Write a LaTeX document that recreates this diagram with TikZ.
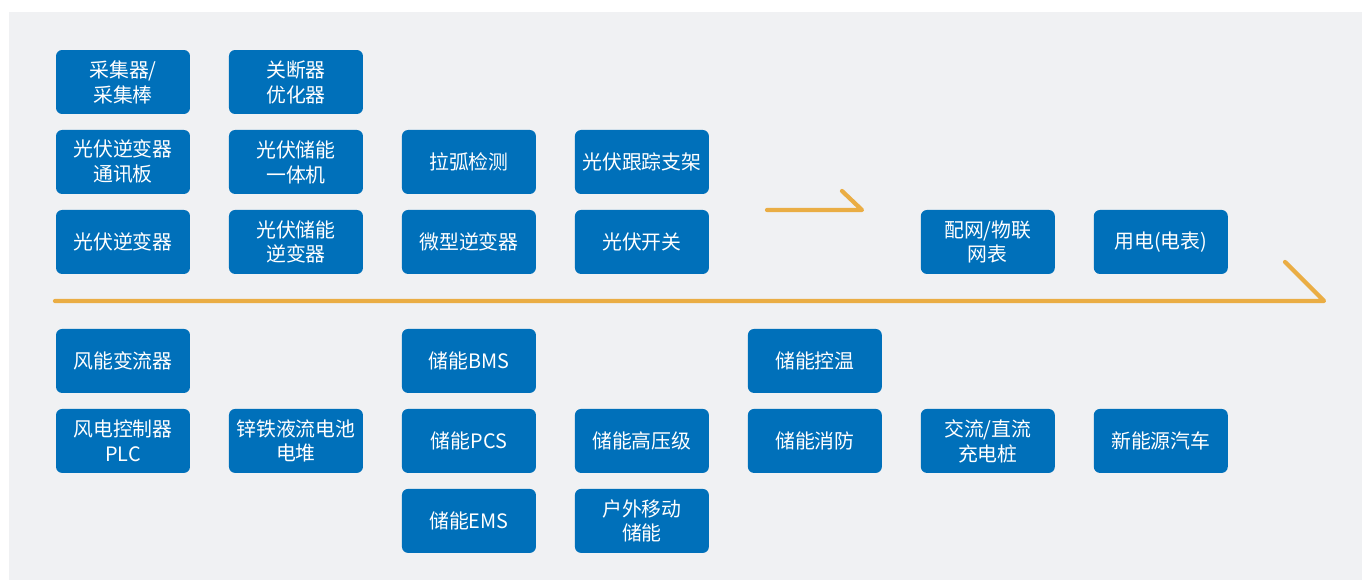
\documentclass[tikz,border=0pt]{standalone}
\usepackage{fontspec}
\setmainfont{Noto Sans CJK SC}
\usepackage{xcolor}
\usepackage{tikz}
\usetikzlibrary{positioning}

\definecolor{boxblue}{HTML}{0070BA}
\definecolor{flowline}{HTML}{EAAD44}
\definecolor{panelgray}{HTML}{F0F1F3}

\begin{document}
\begin{tikzpicture}[
    x=0.02cm, y=-0.02cm,
    chainbox/.style={rectangle, rounded corners=3.5pt, fill=boxblue, text=white,
        minimum width=2.68cm, minimum height=1.28cm, inner sep=1pt, outer sep=0pt,
        align=center, font=\fontsize{11.3}{14.2}\selectfont},
    flowarrow/.style={draw=flowline, line width=2.4pt, line cap=round, line join=round},
]
% canvas and grey panel
\useasboundingbox (0,0) rectangle (1362,580);
\fill[panelgray] (9,12) rectangle (1362,580);

% upstream: photovoltaic
\node[chainbox](cjq) at (123,82){采集器/\\采集棒};
\node[chainbox](gdq)[right = 0.78cm of cjq]{关断器\\优化器};
\node[chainbox](txb)[below = 0.32cm of cjq]{光伏逆变器\\通讯板};
\node[chainbox](ytj)[right = 0.78cm of txb]{光伏储能\\一体机};
\node[chainbox](lhjc)[right = 0.78cm of ytj]{拉弧检测};
\node[chainbox](gzzj)[right = 0.78cm of lhjc]{光伏跟踪支架};
\node[chainbox](gfnb)[below = 0.32cm of txb]{光伏逆变器};
\node[chainbox](cnnb)[right = 0.78cm of gfnb]{光伏储能\\逆变器};
\node[chainbox](wxnb)[right = 0.78cm of cnnb]{微型逆变器};
\node[chainbox](gfkg)[right = 0.78cm of wxnb]{光伏开关};
\node[chainbox](pwb)[right = 4.24cm of gfkg]{配网/物联\\网表};
\node[chainbox](ydb)[right = 0.78cm of pwb]{用电(电表)};

% downstream: wind, storage, charging
\node[chainbox](fnbl)[below = 1.1cm of gfnb]{风能变流器};
\node[chainbox](bms)[right = 4.24cm of fnbl]{储能BMS};
\node[chainbox](ckw)[right = 4.24cm of bms]{储能控温};
\node[chainbox](plc)[below = 0.32cm of fnbl]{风电控制器\\PLC};
\node[chainbox](ltdc)[right = 0.78cm of plc]{锌铁液流电池\\电堆};
\node[chainbox](pcs)[right = 0.78cm of ltdc]{储能PCS};
\node[chainbox](gyj)[right = 0.78cm of pcs]{储能高压级};
\node[chainbox](cxf)[right = 0.78cm of gyj]{储能消防};
\node[chainbox](cdz)[right = 0.78cm of cxf]{交流/直流\\充电桩};
\node[chainbox](xnyc)[right = 0.78cm of cdz]{新能源汽车};
\node[chainbox](ems)[below = 0.32cm of pcs]{储能EMS};
\node[chainbox](ydcn)[right = 0.78cm of ems]{户外移动\\储能};

% flow arrows
\coordinate (mainstart) at (55,301);
\coordinate (mainend) at (1324,301);
\coordinate (mainbarb) at (1285,262);
\coordinate (minorstart) at (767,210);
\coordinate (minorend) at (862,210);
\coordinate (minorbarb) at (842,191);
\draw[flowarrow] (mainstart) -- (mainend) -- (mainbarb);
\draw[flowarrow] (minorstart) -- (minorend) -- (minorbarb);
\end{tikzpicture}
\end{document}
